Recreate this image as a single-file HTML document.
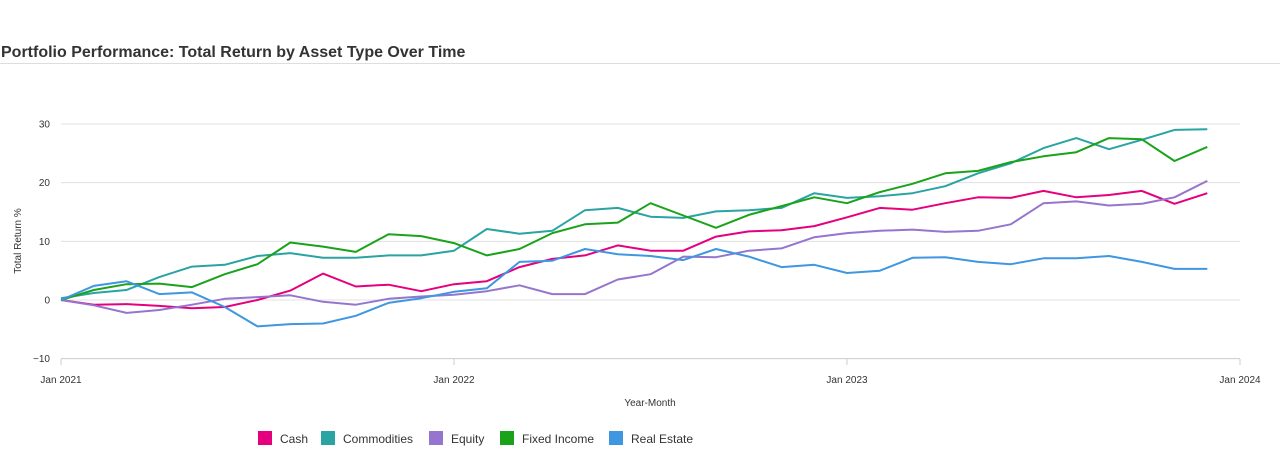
<!DOCTYPE html>
<html><head><meta charset="utf-8"><style>
body{margin:0;background:#fff;font-family:"Liberation Sans",Arial,sans-serif;}
#wrap{position:relative;width:1280px;height:454px;overflow:hidden;}
#title{position:absolute;left:1px;top:44px;font-size:16px;font-weight:bold;color:#333;}
#rule{position:absolute;left:0;top:63px;width:1280px;height:1px;background:#ddd;}
</style></head><body>
<div id="wrap">
<div id="title">Portfolio Performance: Total Return by Asset Type Over Time</div>
<div id="rule"></div>
<svg id="chart" width="1280" height="454" style="position:absolute;left:0;top:0"></svg>
</div>
<script>
const seriesNames = ["Cash","Commodities","Equity","Fixed Income","Real Estate"];
const seriesColors = ["#e5007d","#2aa3a3","#9575cd","#1aa31a","#3e97e0"];
const cash = [0,-0.8,-0.7,-1.0,-1.4,-1.2,0,1.6,4.5,2.3,2.6,1.5,2.7,3.2,5.6,7.0,7.6,9.3,8.4,8.4,10.8,11.7,11.9,12.6,14.1,15.7,15.4,16.5,17.5,17.4,18.6,17.5,17.9,18.6,16.4,18.2];
const commodities = [0.3,1.2,1.7,3.9,5.7,6.0,7.5,8.0,7.2,7.2,7.6,7.6,8.4,12.1,11.3,11.8,15.3,15.7,14.2,14.0,15.1,15.3,15.7,18.2,17.4,17.7,18.2,19.4,21.6,23.3,25.9,27.6,25.7,27.3,29.0,29.1];
const equity = [0,-0.9,-2.2,-1.7,-0.8,0.2,0.5,0.8,-0.3,-0.8,0.2,0.6,0.9,1.5,2.5,1.0,1.0,3.5,4.4,7.4,7.3,8.4,8.8,10.7,11.4,11.8,12.0,11.6,11.8,12.9,16.5,16.8,16.1,16.4,17.5,20.3];
const fixedIncome = [0,1.7,2.7,2.8,2.2,4.4,6.1,9.8,9.1,8.2,11.2,10.9,9.7,7.6,8.7,11.4,12.9,13.2,16.5,14.4,12.3,14.5,16.0,17.5,16.5,18.4,19.8,21.6,22.0,23.5,24.5,25.2,27.6,27.4,23.7,26.1];
const realEstate = [0,2.4,3.2,1.0,1.3,-1.2,-4.5,-4.1,-4.0,-2.7,-0.5,0.3,1.4,2.0,6.5,6.7,8.7,7.8,7.5,6.8,8.7,7.4,5.6,6.0,4.6,5.0,7.2,7.3,6.5,6.1,7.1,7.1,7.5,6.5,5.3,5.3];
const yTicks = [-10,0,10,20,30];
const xTickLabels = ["Jan 2021","Jan 2022","Jan 2023","Jan 2024"];
const allSeries = [cash,commodities,equity,fixedIncome,realEstate];

const NS="http://www.w3.org/2000/svg";
const svg=document.getElementById('chart');
const L=61,R=1240,T=124,B=359;
const xScale=m=>L+(R-L)*m/36;
const yScale=v=>300-(v)*(300-124)/30;
function mk(tag,attrs,parent){const e=document.createElementNS(NS,tag);for(const k in attrs)e.setAttribute(k,attrs[k]);(parent||svg).appendChild(e);return e;}

yTicks.forEach(t=>{
  const g=mk('line',{x1:L,x2:R,y1:yScale(t),y2:yScale(t),stroke:t===-10?'#ccc':'#e0e0e0','stroke-width':1});
  
  
  const tx=mk('text',{x:50,y:yScale(t)+3.5,'text-anchor':'end','font-size':10,fill:'#333'});
  tx.textContent=t<0?'\u2212'+Math.abs(t):t;
  
  
});
xTickLabels.forEach((lab,i)=>{
  const x=xScale(i*12);
  const tk=mk('line',{x1:x,x2:x,y1:B,y2:B+6,stroke:'#ccc'});
  
  
  const tx=mk('text',{x:x,y:383,'text-anchor':'middle','font-size':10,fill:'#333'});
  tx.textContent=lab;
  
  
});
const xt=mk('text',{x:650,y:406,'text-anchor':'middle','font-size':10,fill:'#333'});
xt.textContent='Year-Month';


const yt=mk('text',{x:0,y:0,'text-anchor':'middle','font-size':10,fill:'#333',transform:'translate(21,241) rotate(-90)'});
yt.textContent='Total Return %';



allSeries.forEach((s,si)=>{
  const d=s.map((v,i)=>(i?'L':'M')+xScale(i).toFixed(1)+','+yScale(v).toFixed(1)).join(' ');
  const p=mk('path',{d:d,fill:'none',stroke:seriesColors[si],'stroke-width':2,'stroke-linejoin':'round'});
  
  
});

const legX=[258,321,429,500,609];
seriesNames.forEach((n,i)=>{
  const r=mk('rect',{x:legX[i],y:431,width:14,height:14,fill:seriesColors[i]});
  
  
  const t=mk('text',{x:legX[i]+22,y:443,'font-size':12,fill:'#333'});
  t.textContent=n;
  
  
});
</script>
</body></html>
